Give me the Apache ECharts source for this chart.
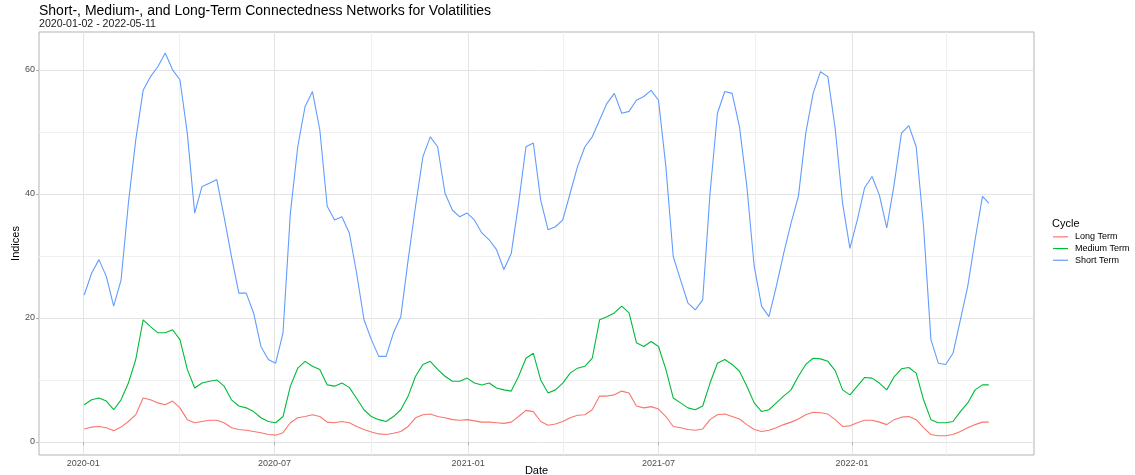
<!DOCTYPE html>
<html>
<head>
<meta charset="utf-8">
<title>Connectedness Networks for Volatilities</title>
<script src="https://cdn.jsdelivr.net/npm/echarts@6/dist/echarts.min.js"></script>
<style>
  html, body { margin: 0; padding: 0; background: #fff; }
  #chart { width: 1135px; height: 475px; }
</style>
</head>
<body>
<div id="chart"></div>
<script>
// readings taken once a week from 2020-01-02, last one is 2022-05-11
var firstDate = '2020-01-02'
var lastDate = '2022-05-11'
var stepDays = 7

var seriesNames = ['Long Term', 'Medium Term', 'Short Term']
var seriesColors = ['#F8766D', '#00BA38', '#619CFF']

var longTerm = [
  2.1, 2.4, 2.5, 2.3, 1.8, 2.4, 3.3, 4.4, 7.1, 6.8, 6.3, 6.0, 6.6, 5.5, 3.6, 3.1, 3.3, 3.5, 3.5, 3.1,
  2.3, 2.0, 1.9, 1.7, 1.5, 1.2, 1.1, 1.5, 3.1, 3.9, 4.1, 4.4, 4.1, 3.2, 3.1, 3.3, 3.1, 2.5,
  2.0, 1.6, 1.3, 1.2, 1.4, 1.7, 2.5, 3.9, 4.4, 4.5, 4.1, 3.9, 3.6, 3.5, 3.6, 3.4, 3.2, 3.2, 3.1, 3.0,
  3.2, 4.1, 5.1, 4.9, 3.3, 2.7, 2.9, 3.3, 3.9, 4.3, 4.4, 5.2, 7.4, 7.4, 7.6, 8.2, 7.9, 5.8,
  5.5, 5.7, 5.3, 4.1, 2.5, 2.3, 2.0, 1.9, 2.1, 3.6, 4.4, 4.5, 4.1, 3.7, 2.8, 2.0, 1.7, 1.9, 2.3, 2.8,
  3.2, 3.7, 4.4, 4.8,
  4.7, 4.5, 3.6, 2.5, 2.6, 3.1, 3.5, 3.5, 3.2, 2.8, 3.6, 4.0, 4.1, 3.6, 2.3, 1.2, 1.0, 1.0, 1.2, 1.7,
  2.3, 2.8, 3.2,
  3.2
]
var mediumTerm = [
  6.0, 6.8, 7.1, 6.6, 5.2, 6.8, 9.5, 13.3, 19.7, 18.6, 17.6, 17.6, 18.1, 16.5, 11.7, 8.7, 9.5, 9.8, 10.0, 9.0,
  6.8, 5.8, 5.5, 4.9, 3.9, 3.3, 3.1, 4.1, 9.0, 11.9, 13.0, 12.2, 11.7, 9.2, 9.0, 9.5, 8.8, 7.0,
  5.2, 4.1, 3.6, 3.3, 4.1, 5.2, 7.4, 10.6, 12.5, 13.0, 11.7, 10.6, 9.8, 9.8, 10.3, 9.5, 9.2, 9.5, 8.7, 8.4,
  8.2, 10.6, 13.5, 14.3, 10.0, 7.9, 8.4, 9.5, 11.1, 11.9, 12.2, 13.5, 19.7, 20.2, 20.8, 21.9, 20.8, 16.0,
  15.4, 16.2, 15.4, 11.7, 7.1, 6.3, 5.5, 5.2, 5.8, 9.5, 12.7, 13.3, 12.5, 11.4, 9.0, 6.3, 4.9, 5.2, 6.3, 7.4,
  8.4, 10.6, 12.5, 13.5,
  13.4, 13.0, 11.5, 8.4, 7.6, 9.0, 10.4, 10.3, 9.5, 8.4, 10.5, 11.8, 12.0, 11.1, 6.8, 3.6, 3.1, 3.1, 3.3, 4.9,
  6.3, 8.4, 9.2,
  9.2
]
var shortTerm = [
  23.7, 27.2, 29.4, 26.7, 21.9, 26.1, 38.5, 48.7, 56.7, 58.9, 60.5, 62.7, 60.0, 58.4, 49.8, 36.9, 41.2, 41.7, 42.3, 36.3,
  29.9, 24.0, 24.0, 20.8, 15.4, 13.3, 12.7, 17.6, 36.9, 47.6, 54.1, 56.5, 50.3, 38.0, 35.8, 36.3, 33.7, 27.2,
  19.7, 16.5, 13.8, 13.8, 17.6, 20.2, 29.4, 38.0, 46.0, 49.2, 47.6, 40.1, 37.4, 36.3, 36.9, 35.8, 33.7, 32.6, 31.0, 27.8,
  30.4, 38.5, 47.6, 48.2, 39.0, 34.2, 34.7, 35.8, 40.1, 44.4, 47.6, 49.2, 51.9, 54.6, 56.2, 53.0, 53.3, 55.1,
  55.7, 56.7, 55.1, 44.4, 29.9, 26.1, 22.4, 21.3, 22.9, 40.1, 53.0, 56.5, 56.2, 50.8, 41.2, 28.3, 21.9, 20.2, 25.1, 30.4,
  35.3, 39.6, 49.8, 56.2,
  59.7, 58.9, 50.5, 38.5, 31.2, 35.8, 41.0, 42.8, 39.8, 34.5, 41.5, 49.8, 51.0, 47.6, 34.7, 16.5, 12.7, 12.5, 14.3, 19.7,
  25.1, 32.6, 39.6,
  38.5
]

var xLimits = ['2019-11-20', '2022-06-23']
var xTicks = ['2020-01-01', '2020-07-01', '2021-01-01', '2021-07-01', '2022-01-01']
var xMinorTicks = ['2020-04-01', '2020-10-01', '2021-04-01', '2021-10-01', '2022-04-01']
var yLimits = [-2.1, 66.1]
var yTicks = [0, 20, 40, 60]
var yMinorTicks = [10, 30, 50]

var font = 'Liberation Sans, Arial, Helvetica, sans-serif'

function pad (n) {
  return n < 10 ? '0' + n : '' + n
}

// 'yyyy-mm-dd' -> local midnight timestamp
function toTime (s) {
  var p = s.split('-')
  return new Date(+p[0], +p[1] - 1, +p[2]).getTime()
}

function makeDates (n) {
  var out = []
  var d = new Date(toTime(firstDate))
  for (var i = 0; i < n - 1; i++) {
    out.push(d.getTime())
    d.setDate(d.getDate() + stepDays)
  }
  out.push(toTime(lastDate))
  return out
}

var dates = makeDates(shortTerm.length)

function pairUp (values) {
  return values.map(function (v, i) { return [dates[i], v] })
}

var chart = echarts.init(document.getElementById('chart'), null, { renderer: 'canvas' })

var lines = [longTerm, mediumTerm, shortTerm].map(function (vals, i) {
  return {
    name: seriesNames[i],
    type: 'line',
    data: pairUp(vals),
    symbol: 'none',
    showSymbol: false,
    color: seriesColors[i],
    lineStyle: { width: 1.1, color: seriesColors[i] },
    xAxisIndex: 0,
    yAxisIndex: 0
  }
})

var option = {
  animation: false,
  backgroundColor: '#fff',
  title: {
    left: 39,
    top: 4,
    padding: 0,
    itemGap: 0,
    text: 'Short-, Medium-, and Long-Term Connectedness Networks for Volatilities',
    subtext: '2020-01-02 - 2022-05-11',
    textStyle: { fontFamily: font, fontSize: 14, fontWeight: 'normal', color: '#000', lineHeight: 14 },
    subtextStyle: { fontFamily: font, fontSize: 10.6, color: '#1a1a1a', lineHeight: 12 }
  },
  graphic: [{
    type: 'text',
    left: 1052,
    top: 218,
    style: { text: 'Cycle', font: '11px ' + font, fill: '#000' }
  }],
  legend: {
    orient: 'vertical',
    left: 1053,
    top: 231,
    padding: 0,
    icon: 'rect',
    itemWidth: 15,
    itemHeight: 1.2,
    itemGap: 0,
    data: seriesNames,
    textStyle: { fontFamily: font, fontSize: 9, lineHeight: 11.7, color: '#000', padding: [0, 0, 0, 2] }
  },
  grid: {
    left: 39,
    right: 101,
    top: 32,
    bottom: 20,
    outerBoundsMode: 'none',
    containLabel: false,
    show: true,
    borderColor: '#b3b3b3',
    borderWidth: 1,
    backgroundColor: 'transparent'
  },
  xAxis: [{
    type: 'value',
    min: toTime(xLimits[0]),
    max: toTime(xLimits[1]),
    name: 'Date',
    nameLocation: 'middle',
    nameGap: 10,
    nameMoveOverlap: false,
    nameTextStyle: { fontFamily: font, fontSize: 11, color: '#000' },
    axisLine: { show: false },
    axisTick: { show: true, length: 3, customValues: xTicks.map(toTime), lineStyle: { color: '#b3b3b3' } },
    axisLabel: {
      customValues: xTicks.map(toTime),
      fontFamily: font,
      fontSize: 9,
      color: '#4d4d4d',
      margin: 4,
      formatter: function (v) {
        var d = new Date(v)
        return d.getFullYear() + '-' + pad(d.getMonth() + 1)
      }
    },
    splitLine: { show: true, lineStyle: { color: '#e3e3e3', width: 1 } }
  }, {
    type: 'value',
    min: toTime(xLimits[0]),
    max: toTime(xLimits[1]),
    position: 'bottom',
    axisLine: { show: false },
    axisTick: { show: false, customValues: xMinorTicks.map(toTime) },
    axisLabel: { show: false },
    splitLine: { show: true, lineStyle: { color: '#f0f0f0', width: 1 } }
  }],
  yAxis: [{
    type: 'value',
    min: yLimits[0],
    max: yLimits[1],
    name: 'Indices',
    nameLocation: 'middle',
    nameGap: 18,
    nameMoveOverlap: false,
    nameTextStyle: { fontFamily: font, fontSize: 11, color: '#000' },
    axisLine: { show: false },
    axisTick: { show: true, length: 3, customValues: yTicks, lineStyle: { color: '#b3b3b3' } },
    axisLabel: {
      customValues: yTicks,
      fontFamily: font,
      fontSize: 9,
      color: '#4d4d4d',
      margin: 4
    },
    splitLine: { show: true, lineStyle: { color: '#e3e3e3', width: 1 } }
  }, {
    type: 'value',
    min: yLimits[0],
    max: yLimits[1],
    position: 'left',
    axisLine: { show: false },
    axisTick: { show: false, customValues: yMinorTicks },
    axisLabel: { show: false },
    splitLine: { show: true, lineStyle: { color: '#f0f0f0', width: 1 } }
  }],
  series: lines
}

chart.setOption(option)
</script>
</body>
</html>
